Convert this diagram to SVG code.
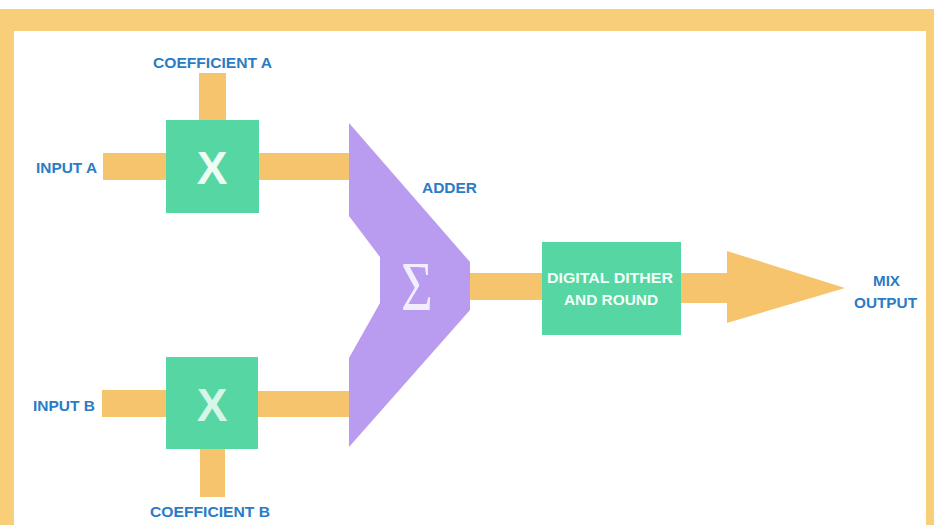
<svg xmlns="http://www.w3.org/2000/svg" width="934" height="525" viewBox="0 0 934 525">
  <style>
    .bar { fill: #f6c46c; }
    .mul { fill: #55d6a2; }
    .lbl { font-family: "Liberation Sans", Arial, sans-serif; font-size: 15px; font-weight: bold; fill: #2a7cc6; }
    .wht { font-family: "Liberation Sans", Arial, sans-serif; font-size: 15px; font-weight: bold; fill: #f4fff9; }
    .x { font-family: "Liberation Sans", Arial, sans-serif; font-size: 46px; font-weight: bold; fill: #eefcf4; text-anchor: middle; }
  </style>

  <!-- page background and frame -->
  <rect x="0" y="0" width="934" height="525" fill="#ffffff"/>
  <g id="frame" fill="#f8cf78">
    <rect x="0" y="9" width="934" height="22"/>
    <rect x="0" y="9" width="14" height="516"/>
    <rect x="926" y="9" width="8" height="516"/>
  </g>

  <!-- signal paths -->
  <g id="connectors">
    <rect class="bar" x="103" y="153" width="64" height="27"/>
    <rect class="bar" x="199" y="73" width="27" height="48"/>
    <rect class="bar" x="258" y="153" width="92" height="27"/>
    <rect class="bar" x="102" y="390" width="65" height="27"/>
    <rect class="bar" x="200" y="448" width="25" height="49"/>
    <rect class="bar" x="257" y="391" width="93" height="26"/>
    <rect class="bar" x="468" y="273" width="76" height="27"/>
    <polygon class="bar" points="680,273 727,273 727,251 845,288 727,323 727,303 680,303"/>
  </g>

  <!-- multiplier A -->
  <g id="mult-a">
    <rect class="mul" x="166" y="120" width="93" height="93"/>
    <text class="x" x="212" y="184">X</text>
  </g>

  <!-- multiplier B -->
  <g id="mult-b">
    <rect class="mul" x="166" y="357" width="92" height="92"/>
    <text class="x" x="212" y="421" fill-opacity="0.85">X</text>
  </g>

  <!-- adder -->
  <g id="adder">
    <polygon fill="#b99cf0" points="349,123 470,262 470,310 349,447 349,358 380,303 380,257 349,216"/>
    <text x="0" y="0" transform="translate(417,310) scale(0.78,1)" font-family="Liberation Serif, serif" font-size="70" fill="#f2eeff" text-anchor="middle">Σ</text>
  </g>

  <!-- dither / round -->
  <g id="dither">
    <rect class="mul" x="542" y="242" width="139" height="93"/>
    <text class="wht" x="547" y="283" textLength="126" lengthAdjust="spacingAndGlyphs">DIGITAL DITHER</text>
    <text class="wht" x="564" y="305" textLength="94" lengthAdjust="spacingAndGlyphs">AND ROUND</text>
  </g>

  <!-- labels -->
  <g id="labels">
    <text class="lbl" x="153" y="68" textLength="119" lengthAdjust="spacingAndGlyphs">COEFFICIENT A</text>
    <text class="lbl" x="36" y="173" textLength="61" lengthAdjust="spacingAndGlyphs">INPUT A</text>
    <text class="lbl" x="33" y="411" textLength="62" lengthAdjust="spacingAndGlyphs">INPUT B</text>
    <text class="lbl" x="150" y="517" textLength="120" lengthAdjust="spacingAndGlyphs">COEFFICIENT B</text>
    <text class="lbl" x="422" y="193" textLength="55" lengthAdjust="spacingAndGlyphs">ADDER</text>
    <text class="lbl" x="873" y="286" textLength="27" lengthAdjust="spacingAndGlyphs">MIX</text>
    <text class="lbl" x="854" y="308" textLength="63" lengthAdjust="spacingAndGlyphs">OUTPUT</text>
  </g>
</svg>
